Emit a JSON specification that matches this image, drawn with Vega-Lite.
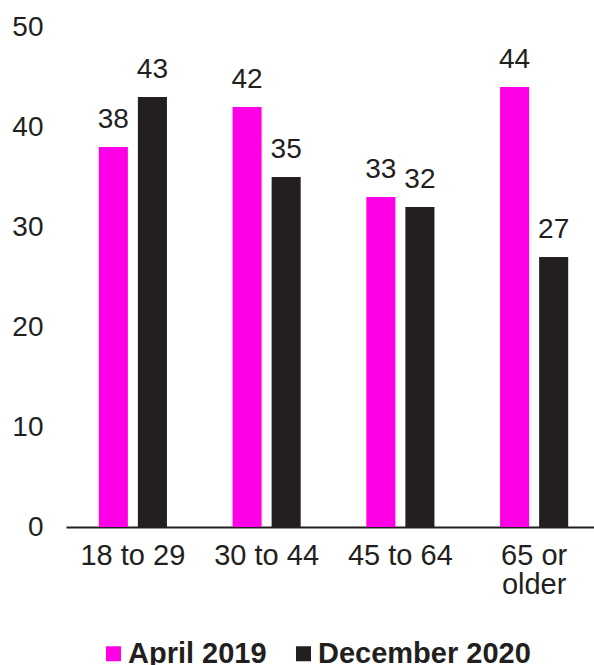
{
  "$schema": "https://vega.github.io/schema/vega-lite/v6.json",
  "autosize": "none",
  "width": 535,
  "height": 500,
  "padding": {"left": 66, "top": 27, "right": 0, "bottom": 138},
  "background": "white",
  "config": {
    "font": "Liberation Sans",
    "view": {"stroke": null}
  },
  "data": {
    "values": [
      {"age": "18 to 29", "period": "April 2019", "value": 38},
      {"age": "18 to 29", "period": "December 2020", "value": 43},
      {"age": "30 to 44", "period": "April 2019", "value": 42},
      {"age": "30 to 44", "period": "December 2020", "value": 35},
      {"age": "45 to 64", "period": "April 2019", "value": 33},
      {"age": "45 to 64", "period": "December 2020", "value": 32},
      {"age": "65 or older", "period": "April 2019", "value": 44},
      {"age": "65 or older", "period": "December 2020", "value": 27}
    ]
  },
  "encoding": {
    "x": {
      "field": "age", "type": "nominal", "sort": null,
      "scale": {"paddingInner": 0, "paddingOuter": 0},
      "axis": {
        "title": null, "labelAngle": 0, "ticks": false,
        "domainColor": "#231f20", "domainWidth": 2,
        "labelFontSize": 29, "labelColor": "#231f20", "labelPadding": 14,
        "labelBaseline": "top", "labelLineHeight": 29,
        "labelExpr": "datum.value == '65 or older' ? ['65 or', 'older'] : datum.label"
      }
    },
    "xOffset": {
      "field": "period", "type": "nominal", "sort": null,
      "scale": {"paddingInner": 0.256, "paddingOuter": 0.84}
    },
    "y": {
      "field": "value", "type": "quantitative",
      "scale": {"domain": [0, 50], "nice": false},
      "axis": {
        "title": null, "values": [0, 10, 20, 30, 40, 50], "grid": false,
        "domain": false, "ticks": false, "labelFontSize": 28,
        "labelColor": "#231f20", "labelPadding": 23
      }
    }
  },
  "layer": [
    {
      "mark": {"type": "bar"},
      "encoding": {
        "color": {
          "field": "period", "type": "nominal", "sort": null,
          "scale": {"domain": ["April 2019", "December 2020"], "range": ["#ff00e6", "#231f20"]},
          "legend": {
            "title": null, "orient": "none", "direction": "horizontal",
            "legendX": 33, "legendY": 612,
            "symbolType": "square", "symbolSize": 225, "symbolStrokeWidth": 0,
            "labelFontSize": 29, "labelFontWeight": "bold", "labelColor": "#231f20",
            "labelOffset": 0, "columnPadding": 22, "padding": 0, "labelLimit": 400
          }
        }
      }
    },
    {
      "mark": {"type": "text", "baseline": "alphabetic", "dy": -19, "fontSize": 28, "color": "#231f20"},
      "encoding": {
        "text": {"field": "value", "type": "quantitative"}
      }
    }
  ]
}
